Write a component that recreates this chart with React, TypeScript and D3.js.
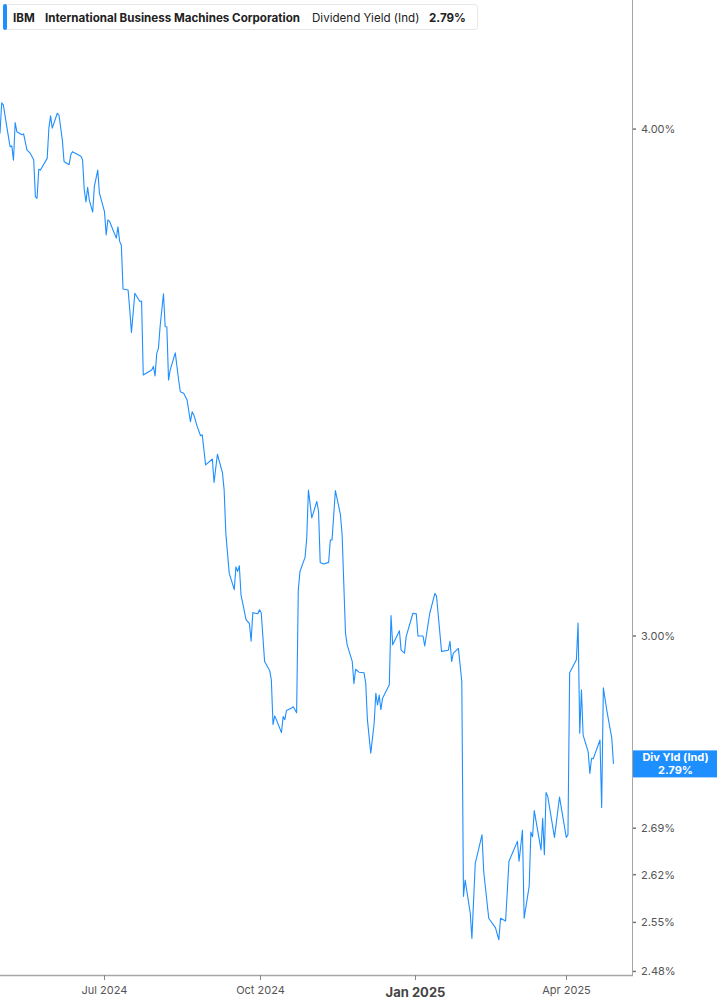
import React, { useRef, useEffect } from 'react';
import * as d3 from 'd3';

// daily dividend yield readings (%), one per date
const dates: string[] = [
  '2024-04-30', '2024-05-01', '2024-05-02', '2024-05-04', '2024-05-06', '2024-05-07', '2024-05-08', '2024-05-09',
  '2024-05-10', '2024-05-13', '2024-05-14', '2024-05-16', '2024-05-18', '2024-05-20', '2024-05-21', '2024-05-22',
  '2024-05-23', '2024-05-24', '2024-05-28', '2024-05-29', '2024-05-30', '2024-05-31', '2024-06-03', '2024-06-04',
  '2024-06-06', '2024-06-07', '2024-06-10', '2024-06-11', '2024-06-12', '2024-06-17', '2024-06-18', '2024-06-19',
  '2024-06-20', '2024-06-21', '2024-06-22', '2024-06-24', '2024-06-25', '2024-06-27', '2024-06-28', '2024-07-01',
  '2024-07-02', '2024-07-03', '2024-07-04', '2024-07-06', '2024-07-08', '2024-07-09', '2024-07-10', '2024-07-11',
  '2024-07-12', '2024-07-15', '2024-07-16', '2024-07-17', '2024-07-19', '2024-07-22', '2024-07-23', '2024-07-24',
  '2024-07-26', '2024-07-29', '2024-07-30', '2024-07-31', '2024-08-01', '2024-08-02', '2024-08-03', '2024-08-05',
  '2024-08-06', '2024-08-07', '2024-08-08', '2024-08-09', '2024-08-12', '2024-08-14', '2024-08-15', '2024-08-17',
  '2024-08-19', '2024-08-21', '2024-08-22', '2024-08-23', '2024-08-25', '2024-08-27', '2024-08-28', '2024-08-30',
  '2024-09-03', '2024-09-04', '2024-09-06', '2024-09-09', '2024-09-10', '2024-09-11', '2024-09-13', '2024-09-16',
  '2024-09-17', '2024-09-18', '2024-09-19', '2024-09-20', '2024-09-23', '2024-09-25', '2024-09-26', '2024-09-27',
  '2024-09-30', '2024-10-01', '2024-10-02', '2024-10-04', '2024-10-07', '2024-10-08', '2024-10-09', '2024-10-10',
  '2024-10-11', '2024-10-14', '2024-10-15', '2024-10-16', '2024-10-17', '2024-10-20', '2024-10-21', '2024-10-23',
  '2024-10-24', '2024-10-25', '2024-10-28', '2024-10-29', '2024-10-30', '2024-11-01', '2024-11-04', '2024-11-05',
  '2024-11-06', '2024-11-08', '2024-11-11', '2024-11-12', '2024-11-13', '2024-11-15', '2024-11-18', '2024-11-19',
  '2024-11-21', '2024-11-22', '2024-11-25', '2024-11-26', '2024-11-27', '2024-11-29', '2024-12-02', '2024-12-03',
  '2024-12-04', '2024-12-06', '2024-12-08', '2024-12-09', '2024-12-10', '2024-12-11', '2024-12-12', '2024-12-13',
  '2024-12-17', '2024-12-18', '2024-12-19', '2024-12-23', '2024-12-24', '2024-12-26', '2024-12-27', '2024-12-31',
  '2025-01-02', '2025-01-03', '2025-01-06', '2025-01-07', '2025-01-10', '2025-01-13', '2025-01-14', '2025-01-17',
  '2025-01-21', '2025-01-22', '2025-01-23', '2025-01-24', '2025-01-27', '2025-01-29', '2025-01-30', '2025-01-31',
  '2025-02-03', '2025-02-04', '2025-02-06', '2025-02-10', '2025-02-11', '2025-02-14', '2025-02-18', '2025-02-20',
  '2025-02-21', '2025-02-24', '2025-02-26', '2025-03-03', '2025-03-04', '2025-03-06', '2025-03-07', '2025-03-10',
  '2025-03-11', '2025-03-12', '2025-03-13', '2025-03-17', '2025-03-18', '2025-03-19', '2025-03-20', '2025-03-21',
  '2025-03-25', '2025-03-28', '2025-04-01', '2025-04-02', '2025-04-03', '2025-04-07', '2025-04-08', '2025-04-09',
  '2025-04-10', '2025-04-11', '2025-04-14', '2025-04-15', '2025-04-16', '2025-04-17', '2025-04-21', '2025-04-22',
  '2025-04-23', '2025-04-25', '2025-04-28', '2025-04-29'
];

const yields: number[] = [
  3.99, 4.06, 4.055, 4.006, 3.96, 3.962, 3.93, 4.015,
  3.994, 3.987, 3.989, 3.953, 3.945, 3.931, 3.849, 3.846,
  3.91, 3.908, 3.934, 4.002, 4.03, 4.002, 4.036, 4.032,
  3.975, 3.927, 3.92, 3.942, 3.949, 3.939, 3.931, 3.864,
  3.838, 3.87, 3.842, 3.816, 3.872, 3.908, 3.857, 3.817,
  3.767, 3.799, 3.796, 3.778, 3.76, 3.784, 3.753, 3.745,
  3.653, 3.651, 3.61, 3.564, 3.644, 3.627, 3.628, 3.479,
  3.483, 3.489, 3.496, 3.477, 3.522, 3.532, 3.576, 3.643,
  3.576, 3.575, 3.469, 3.489, 3.523, 3.469, 3.446, 3.443,
  3.43, 3.388, 3.407, 3.401, 3.379, 3.361, 3.363, 3.306,
  3.317, 3.273, 3.326, 3.291, 3.259, 3.18, 3.109, 3.08,
  3.12, 3.112, 3.122, 3.071, 3.028, 3.021, 2.991, 3.04,
  3.038, 3.045, 3.04, 2.957, 2.942, 2.926, 2.853, 2.867,
  2.861, 2.84, 2.866, 2.861, 2.876, 2.88, 2.882, 2.872,
  3.08, 3.112, 3.137, 3.171, 3.259, 3.208, 3.238, 3.22,
  3.128, 3.125, 3.128, 3.168, 3.168, 3.258, 3.214, 3.177,
  3.005, 2.985, 2.957, 2.92, 2.944, 2.939, 2.938, 2.921,
  2.861, 2.807, 2.855, 2.904, 2.885, 2.901, 2.877, 2.896,
  2.918, 3.035, 2.985, 3.009, 2.976, 2.971, 2.999, 3.039,
  3.038, 3.0, 3.0, 2.983, 3.039, 3.073, 3.069, 2.974,
  2.976, 2.991, 2.957, 2.971, 2.979, 2.924, 2.588, 2.612,
  2.564, 2.527, 2.637, 2.68, 2.625, 2.556, 2.542, 2.525,
  2.556, 2.552, 2.64, 2.67, 2.64, 2.687, 2.556, 2.603,
  2.684, 2.677, 2.717, 2.657, 2.705, 2.65, 2.745, 2.739,
  2.676, 2.738, 2.676, 2.68, 2.938, 2.96, 3.022, 2.839,
  2.91, 2.836, 2.809, 2.775, 2.799, 2.798, 2.828, 2.722,
  2.913, 2.877, 2.831, 2.79
];

const yTicks: number[] = [2.48, 2.55, 2.62, 2.69, 3.0, 4.0];
const xTicks: string[] = ['2024-07-01', '2024-10-01', '2025-01-01', '2025-04-01'];
const xTickLabels: string[] = ['Jul 2024', 'Oct 2024', 'Jan 2025', 'Apr 2025'];

const ticker = 'IBM';
const company = 'International Business Machines Corporation';
const metric = 'Dividend Yield (Ind)';
const lastValue = yields[yields.length - 1];

const W = 717;
const H = 1005;
const plotRight = 632;
const plotBottom = 975;
const lineColor = '#1e8fff';
const font = 'Inter, "Noto Sans", sans-serif';

export default () => {
  const svgRef = useRef<SVGSVGElement>(null);

  useEffect(() => {
    if (!svgRef.current) return;
    const svg = d3.select(svgRef.current);
    svg.selectAll('*').remove();

    const parse = d3.timeParse('%Y-%m-%d');
    const data = dates.map((d, i) => ({ date: parse(d) as Date, value: yields[i] }));

    const x = d3
      .scaleTime()
      .domain([new Date(2024, 3, 30), new Date(2025, 4, 10)])
      .range([0, plotRight]);
    const y = d3.scaleLog().domain([2.475, 4.304]).range([plotBottom, 0]);

    // axes frame
    svg
      .append('line')
      .attr('x1', plotRight + 0.5)
      .attr('x2', plotRight + 0.5)
      .attr('y1', 0)
      .attr('y2', plotBottom)
      .style('stroke', '#a6a6a6')
      .style('stroke-width', 1);
    svg
      .append('line')
      .attr('x1', 0)
      .attr('x2', plotRight + 1)
      .attr('y1', plotBottom + 0.5)
      .attr('y2', plotBottom + 0.5)
      .style('stroke', '#a6a6a6')
      .style('stroke-width', 1.5);

    // y ticks on the right
    const yg = svg.append('g');
    yTicks.forEach((t) => {
      const yy = y(t);
      yg.append('line')
        .attr('x1', plotRight + 1)
        .attr('x2', plotRight + 4)
        .attr('y1', yy)
        .attr('y2', yy)
        .style('stroke', '#777')
        .style('stroke-width', 1.5);
      yg.append('text')
        .attr('x', plotRight + 9)
        .attr('y', yy)
        .attr('dy', '0.35em')
        .style('font-family', font)
        .style('font-size', '11px')
        .style('fill', '#555')
        .text(`${t.toFixed(2)}%`);
    });

    // x ticks
    const xg = svg.append('g');
    xTicks.forEach((t, i) => {
      const xx = Math.round(x(parse(t) as Date)) + 0.5;
      const isYear = xTickLabels[i].startsWith('Jan');
      xg.append('line')
        .attr('x1', xx)
        .attr('x2', xx)
        .attr('y1', plotBottom)
        .attr('y2', plotBottom + 5)
        .style('stroke', '#888')
        .style('stroke-width', 1);
      xg.append('text')
        .attr('x', xx)
        .attr('y', isYear ? 997 : 994)
        .attr('text-anchor', 'middle')
        .style('font-family', font)
        .style('font-size', isYear ? '13px' : '11px')
        .style('font-weight', isYear ? 700 : 400)
        .style('fill', isYear ? '#444' : '#555')
        .text(xTickLabels[i]);
    });

    // series line
    const line = d3
      .line<{ date: Date; value: number }>()
      .x((d) => x(d.date))
      .y((d) => y(d.value));
    svg
      .append('path')
      .datum(data)
      .attr('d', line)
      .style('fill', 'none')
      .style('stroke', lineColor)
      .style('stroke-width', 1.1)
      .style('stroke-linejoin', 'round');

    // last value label
    const ly = y(lastValue);
    const lg = svg.append('g');
    lg.append('rect')
      .attr('x', plotRight + 1)
      .attr('y', ly - 13.5)
      .attr('width', W - plotRight - 1)
      .attr('height', 27)
      .style('fill', lineColor);
    lg.append('text')
      .attr('x', (plotRight + W) / 2 + 1)
      .attr('y', ly - 3)
      .attr('text-anchor', 'middle')
      .style('font-family', font)
      .style('font-size', '11px')
      .style('font-weight', 700)
      .style('fill', '#fff')
      .text('Div Yld (Ind)');
    lg.append('text')
      .attr('x', (plotRight + W) / 2 + 1)
      .attr('y', ly + 10)
      .attr('text-anchor', 'middle')
      .style('font-family', font)
      .style('font-size', '11px')
      .style('font-weight', 700)
      .style('fill', '#fff')
      .text(`${lastValue.toFixed(2)}%`);

    // header legend box
    const hg = svg.append('g');
    hg.append('rect')
      .attr('x', 3.5)
      .attr('y', 4.5)
      .attr('width', 474)
      .attr('height', 25)
      .attr('rx', 3)
      .style('fill', '#fff')
      .style('stroke', '#e6e6e6');
    hg.append('rect')
      .attr('x', 3)
      .attr('y', 4)
      .attr('width', 4)
      .attr('height', 26)
      .attr('rx', 2)
      .style('fill', lineColor);
    const parts = [
      { text: ticker, x: 13, bold: true },
      { text: company, x: 45, bold: true },
      { text: metric, x: 312, bold: false },
      { text: `${lastValue.toFixed(2)}%`, x: 429, bold: true }
    ];
    parts.forEach((p) => {
      hg.append('text')
        .attr('x', p.x)
        .attr('y', 21.5)
        .style('font-family', font)
        .style('font-size', '11.6px')
        .style('font-weight', p.bold ? 700 : 400)
        .style('fill', '#222')
        .text(p.text);
    });
  }, []);

  return (
    <svg
      ref={svgRef}
      width={W}
      height={H}
      style={{ position: 'absolute', left: 0, top: 0, background: '#fff' }}
    />
  );
};
